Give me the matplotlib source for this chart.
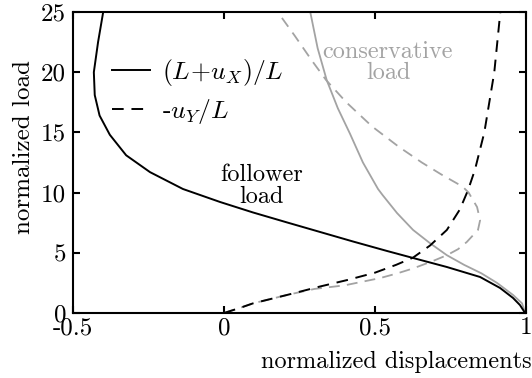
import matplotlib
matplotlib.use('Agg')
import matplotlib.pyplot as plt

plt.rcParams['font.family'] = 'serif'
plt.rcParams['font.serif'] = ['cmr10']
plt.rcParams['mathtext.fontset'] = 'cm'
plt.rcParams['axes.formatter.use_mathtext'] = True

# follower load, (L+u_X)/L
fol_x_load = [0, 0.66, 1.25, 2.08, 2.99, 3.82, 4.57, 5.15, 5.94, 6.73, 7.52, 8.35,
              9.22, 10.3, 11.7, 13.1, 14.8, 16.4, 18.1, 20.0, 22.5, 25.0]
fol_x_val = [0.997, 0.98, 0.957, 0.914, 0.848, 0.738, 0.626, 0.540, 0.427, 0.318,
             0.209, 0.096, -0.013, -0.136, -0.245, -0.324, -0.378, -0.412, -0.428,
             -0.431, -0.417, -0.40]
# follower load, -u_Y/L
fol_y_load = [0, 0.4, 0.8, 1.5, 2.2, 2.75, 3.35, 4.0, 4.6, 5.6, 6.9, 8.6, 10.2,
              11.9, 15.0, 20.0, 25.0]
fol_y_val = [0.0, 0.05, 0.096, 0.209, 0.318, 0.41, 0.50, 0.57, 0.626, 0.682,
             0.738, 0.781, 0.808, 0.831, 0.862, 0.895, 0.915]
# conservative load, (L+u_X)/L
con_x_load = [0, 0.8, 1.5, 2.5, 3.3, 4.0, 4.8, 5.8, 6.9, 8.3, 9.8, 10.3, 12.5,
              14.9, 17.0, 19.35, 22.0, 25.2]
con_x_val = [0.997, 0.987, 0.957, 0.904, 0.852, 0.795, 0.738, 0.682, 0.626, 0.573,
             0.525, 0.51, 0.46, 0.417, 0.377, 0.34, 0.31, 0.284]
# conservative load, -u_Y/L
con_y_load = [0, 0.4, 0.8, 1.5, 2.0, 2.3, 2.9, 3.3, 3.7, 4.3, 4.8, 5.3, 5.9, 6.9,
              7.7, 8.8, 10.0, 10.5, 11.5, 12.5, 13.8, 15.5, 17.5, 19.35, 21.0,
              23.0, 25.2]
con_y_val = [0.0, 0.05, 0.096, 0.209, 0.30, 0.40, 0.517, 0.575, 0.626, 0.69,
             0.738, 0.775, 0.804, 0.841, 0.848, 0.838, 0.81, 0.79, 0.72, 0.655,
             0.579, 0.49, 0.405, 0.338, 0.29, 0.235, 0.172]

grey = '#a3a3a3'
fs = 18

fig = plt.figure(figsize=(5.32, 3.78), dpi=100)
ax = fig.add_axes([73/532, 65/378, 453/532, 301/378])

ax.plot(con_x_val, con_x_load, color=grey, lw=1.3, solid_joinstyle='round')
ax.plot(con_y_val, con_y_load, color=grey, lw=1.3, dashes=(6, 4))
l1, = ax.plot(fol_x_val, fol_x_load, color='black', lw=1.4, solid_joinstyle='round')
l2, = ax.plot(fol_y_val, fol_y_load, color='black', lw=1.4, dashes=(6, 4))

ax.set_xlim(-0.5, 1)
ax.set_ylim(0, 25)
ax.set_xticks([-0.5, 0, 0.5, 1])
ax.set_xticklabels(['-0.5', '0', '0.5', '1'])
ax.set_yticks([0, 5, 10, 15, 20, 25])
ax.set_yticklabels(['0', '5', '10', '15', '20', '25'])
ax.tick_params(direction='in', top=True, right=True, length=5, width=1.5,
               labelsize=fs)
ax.tick_params(axis='x', pad=3)
ax.tick_params(axis='y', pad=5)
for s in ax.spines.values():
    s.set_linewidth(1.5)

ax.set_ylabel('normalized load', fontsize=fs, va='center')
ax.yaxis.set_label_coords(-0.108, 0.55)
# x label sits at the lower right corner of the figure
fig.text(0.999, 1 - 362/378, 'normalized displacements', fontsize=17.5,
         ha='right', va='center')

ax.text(0.123, 11.5, 'follower', fontsize=17.5, ha='center', va='center')
ax.text(0.123, 9.6, 'load', fontsize=17.5, ha='center', va='center')
ax.text(0.543, 21.7, 'conservative', fontsize=17.5, ha='center', va='center', color=grey)
ax.text(0.543, 19.9, 'load', fontsize=17.5, ha='center', va='center', color=grey)

ax.legend([l1, l2], [r'$(L\!+\!u_X)/L$', r'-$u_Y/L$'], frameon=False,
          fontsize=18.5, loc='upper left', bbox_to_anchor=(0.085, 0.85),
          handlelength=1.5, handletextpad=0.45, labelspacing=0.35,
          borderaxespad=0, borderpad=0)

fig.savefig('out.png', dpi=100)
